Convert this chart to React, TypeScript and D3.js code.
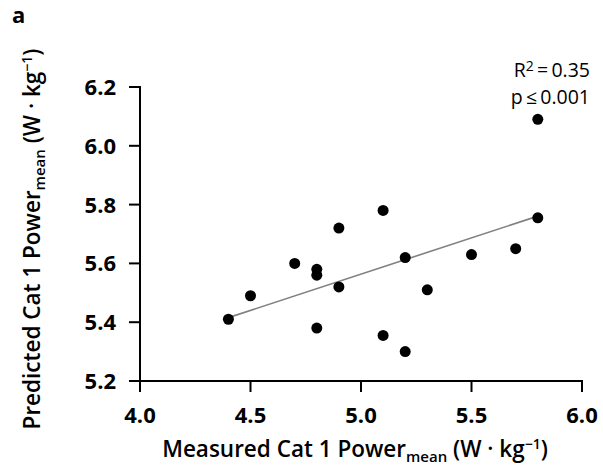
import React from "react";
import * as d3 from "d3";

const measured = [4.4, 4.5, 4.7, 4.8, 4.8, 4.8, 4.9, 4.9, 5.1, 5.1, 5.2, 5.2, 5.3, 5.5, 5.7, 5.8, 5.8];
const predicted = [5.41, 5.49, 5.60, 5.58, 5.56, 5.38, 5.72, 5.52, 5.78, 5.355, 5.62, 5.30, 5.51, 5.63, 5.65, 5.755, 6.09];
const xTicks = [4.0, 4.5, 5.0, 5.5, 6.0];
const yTicks = [5.2, 5.4, 5.6, 5.8, 6.0, 6.2];

const FONT = "'Open Sans', 'Noto Sans', sans-serif";

export default function App() {
  const x = d3.scaleLinear().domain([4.0, 6.0]).range([140, 582]);
  const y = d3.scaleLinear().domain([5.2, 6.2]).range([381, 87]);

  const mx = d3.mean(measured) as number;
  const my = d3.mean(predicted) as number;
  let sxy = 0, sxx = 0;
  measured.forEach((v, i) => {
    sxy += (v - mx) * (predicted[i] - my);
    sxx += (v - mx) * (v - mx);
  });
  const slope = sxy / sxx;
  const intercept = my - slope * mx;
  const [xmin, xmax] = d3.extent(measured) as [number, number];
  const fitLine = d3.line<number>().x((d) => x(d)).y((d) => y(intercept + slope * d));

  const x0 = x.range()[0];
  const y0 = y.range()[0];
  const tick = 11;

  return (
    <svg width={603} height={466} style={{ position: "absolute", left: 0, top: 0, background: "#fff" }} fontFamily={FONT}>
      <text x={12} y={23} fontSize={22} fontWeight={700}>a</text>

      {/* y axis */}
      <path d={`M${x0 - tick},${y(6.2)}H${x0}V${y0}`} fill="none" stroke="#000" strokeWidth={2} />
      {yTicks.map((t) => (
        <g key={t}>
          <line x1={x0 - tick} x2={x0} y1={y(t)} y2={y(t)} stroke="#000" strokeWidth={2} />
          <text x={x0 - 24} y={y(t)} dy="0.36em" textAnchor="end" fontSize={22} fontWeight={700}>{t.toFixed(1)}</text>
        </g>
      ))}

      {/* x axis */}
      <path d={`M${x0},${y0}H${x(6.0)}V${y0 + tick}`} fill="none" stroke="#000" strokeWidth={2} />
      {xTicks.map((t) => (
        <g key={t}>
          <line x1={x(t)} x2={x(t)} y1={y0} y2={y0 + tick} stroke="#000" strokeWidth={2} />
          <text x={x(t)} y={423} textAnchor="middle" fontSize={22} fontWeight={700}>{t.toFixed(1)}</text>
        </g>
      ))}

      {/* regression line */}
      <path d={fitLine([xmin, xmax]) as string} fill="none" stroke="#808080" strokeWidth={1.6} />

      {/* points */}
      {measured.map((v, i) => (
        <circle key={i} cx={x(v)} cy={y(predicted[i])} r={5.5} fill="#000" />
      ))}

      {/* annotation */}
      <text x={590} y={77} textAnchor="end" fontSize={19.5}>
        R<tspan fontSize={14} dy={-6}>2</tspan><tspan dy={6}>{"\u2009=\u20090.35"}</tspan>
      </text>
      <text x={590} y={104} textAnchor="end" fontSize={19.5}>{"p\u2009≤\u20090.001"}</text>

      {/* x title */}
      <text x={355} y={457} textAnchor="middle" fontSize={22.5} fontWeight={600}>
        Measured Cat 1 Power<tspan fontSize={15} dy={5}>mean</tspan><tspan dy={-5}> (W · kg</tspan><tspan fontSize={14} dy={-8}>−1</tspan><tspan dy={8}>)</tspan>
      </text>

      {/* y title */}
      <text transform={`translate(40,239) rotate(-90)`} textAnchor="middle" fontSize={22.5} fontWeight={600}>
        Predicted Cat 1 Power<tspan fontSize={15} dy={5}>mean</tspan><tspan dy={-5}> (W · kg</tspan><tspan fontSize={14} dy={-8}>−1</tspan><tspan dy={8}>)</tspan>
      </text>
    </svg>
  );
}
